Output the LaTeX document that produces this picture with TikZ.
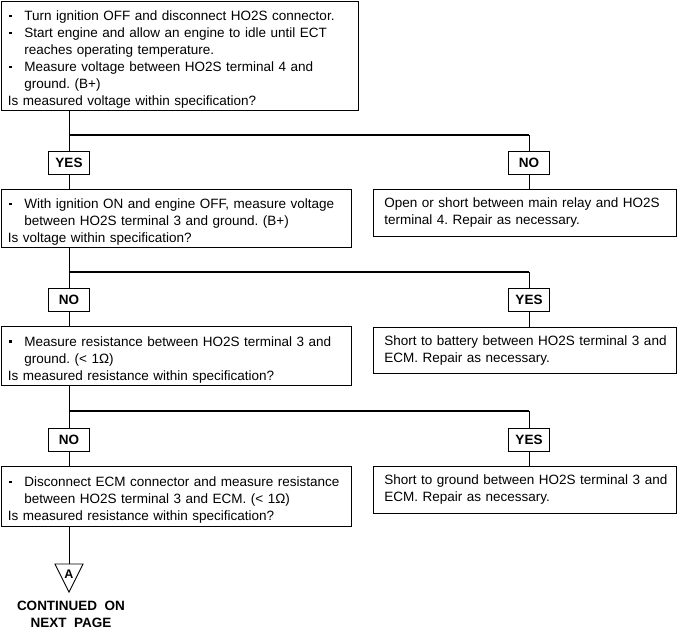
\documentclass[tikz,border=0pt]{standalone}
\usepackage{fontspec}
\setmainfont{Liberation Sans}
\newcommand\bdot{\raisebox{3.5pt}{\rule{2.1pt}{2.1pt}}}
\newcommand\bitem[1]{\par\noindent\hangindent=16.5pt\hangafter=1\makebox[16.5pt][l]{\hspace{1.5pt}\bdot}#1}
\newcommand\qline[1]{\par\noindent\mbox{#1}}
\newcommand\rind{\hspace*{4.5pt}}
\tikzset{
  box/.style={draw, line width=0.8pt, anchor=north west, inner xsep=6.5pt, inner ysep=0pt,
    font=\fontsize{13.5}{17}\selectfont\frenchspacing, align=left},
  tag/.style={draw, line width=0.8pt, minimum width=41pt, minimum height=23pt, inner sep=0pt,
    font=\fontsize{13.5}{15}\selectfont\bfseries},
  conn/.style={line width=1pt},
  hline/.style={line width=1.6pt},
}
\begin{document}
\begin{tikzpicture}[x=1pt,y=-1pt]
\useasboundingbox (0,0) rectangle (678,630);

% left column boxes
\node[box, text width=344pt, minimum height=109pt] (b1) at (1,1) {%
\bitem{\mbox{Turn ignition OFF and disconnect HO2S connector.}}
\bitem{\mbox{Start engine and allow an engine to idle until ECT}\newline\mbox{reaches operating temperature.}}
\bitem{\mbox{Measure voltage between HO2S terminal 4 and}\newline\mbox{ground. (B+)}}
\qline{Is measured voltage within specification?}};

\node[box, text width=337pt, minimum height=58pt] (b2) at (1,189) {%
\bitem{\mbox{With ignition ON and engine OFF, measure voltage}\newline\mbox{between HO2S terminal 3 and ground. (B+)}}
\qline{Is voltage within specification?}};

\node[box, text width=337pt, minimum height=59pt] (b3) at (1,326) {%
\bitem{\mbox{Measure resistance between HO2S terminal 3 and}\newline\mbox{ground. (< 1Ω)}}
\qline{Is measured resistance within specification?}};

\node[box, text width=337pt, minimum height=60pt] (b4) at (1,466) {%
\bitem{\mbox{Disconnect ECM connector and measure resistance}\newline\mbox{between HO2S terminal 3 and ECM. (< 1Ω)}}
\qline{Is measured resistance within specification?}};

% right column boxes
\node[box, text width=290pt, minimum height=47pt] (r1) at (373,189) {%
\rind\mbox{Open or short between main relay and HO2S}\newline\rind\mbox{terminal 4. Repair as necessary.}};
\node[box, text width=290pt, minimum height=46pt] (r2) at (373,327) {%
\rind\mbox{Short to battery between HO2S terminal 3 and}\newline\rind\mbox{ECM. Repair as necessary.}};
\node[box, text width=290pt, minimum height=47pt] (r3) at (373,466) {%
\rind\mbox{Short to ground between HO2S terminal 3 and}\newline\rind\mbox{ECM. Repair as necessary.}};

% tags
\node[tag] (y1) at (69,162.5) {YES};
\node[tag] (n1) at (529,162.5) {NO};
\node[tag] (n2) at (69,299.5) {NO};
\node[tag] (y2) at (529,299.5) {YES};
\node[tag] (n3) at (69,439.5) {NO};
\node[tag] (y3) at (529,439.5) {YES};

% branch levels
\coordinate (h1) at (0,135);
\coordinate (h2) at (0,272);
\coordinate (h3) at (0,411);

% connectors
\draw[conn] (y1 |- b1.south) -- (y1.north);
\draw[hline] (y1 |- h1) -- (n1 |- h1);
\draw[conn] (n1 |- h1) -- (n1.north);
\draw[conn] (y1.south) -- (y1 |- b2.north);
\draw[conn] (n1.south) -- (n1 |- r1.north);

\draw[conn] (n2 |- b2.south) -- (n2.north);
\draw[hline] (n2 |- h2) -- (y2 |- h2);
\draw[conn] (y2 |- h2) -- (y2.north);
\draw[conn] (n2.south) -- (n2 |- b3.north);
\draw[conn] (y2.south) -- (y2 |- r2.north);

\draw[conn] (n3 |- b3.south) -- (n3.north);
\draw[hline] (n3 |- h3) -- (y3 |- h3);
\draw[conn] (y3 |- h3) -- (y3.north);
\draw[conn] (n3.south) -- (n3 |- b4.north);
\draw[conn] (y3.south) -- (y3 |- r3.north);

% off-page connector
\coordinate (tt) at (69,564);
\draw[conn] (tt |- b4.south) -- (tt);
\draw[line width=0.9pt, line join=miter] (55,564) -- (83,564) -- (69,592) -- cycle;
\node[font=\fontsize{12.5}{12.5}\selectfont\bfseries, inner sep=0pt] (A) at (69,574.5) {A};
\node[font=\fontsize{13.5}{17}\selectfont\bfseries, align=center, inner sep=0pt] (cont) at (71,614.5)
  {CONTINUED\ \ ON\\NEXT\ \ PAGE};
\end{tikzpicture}
\end{document}
